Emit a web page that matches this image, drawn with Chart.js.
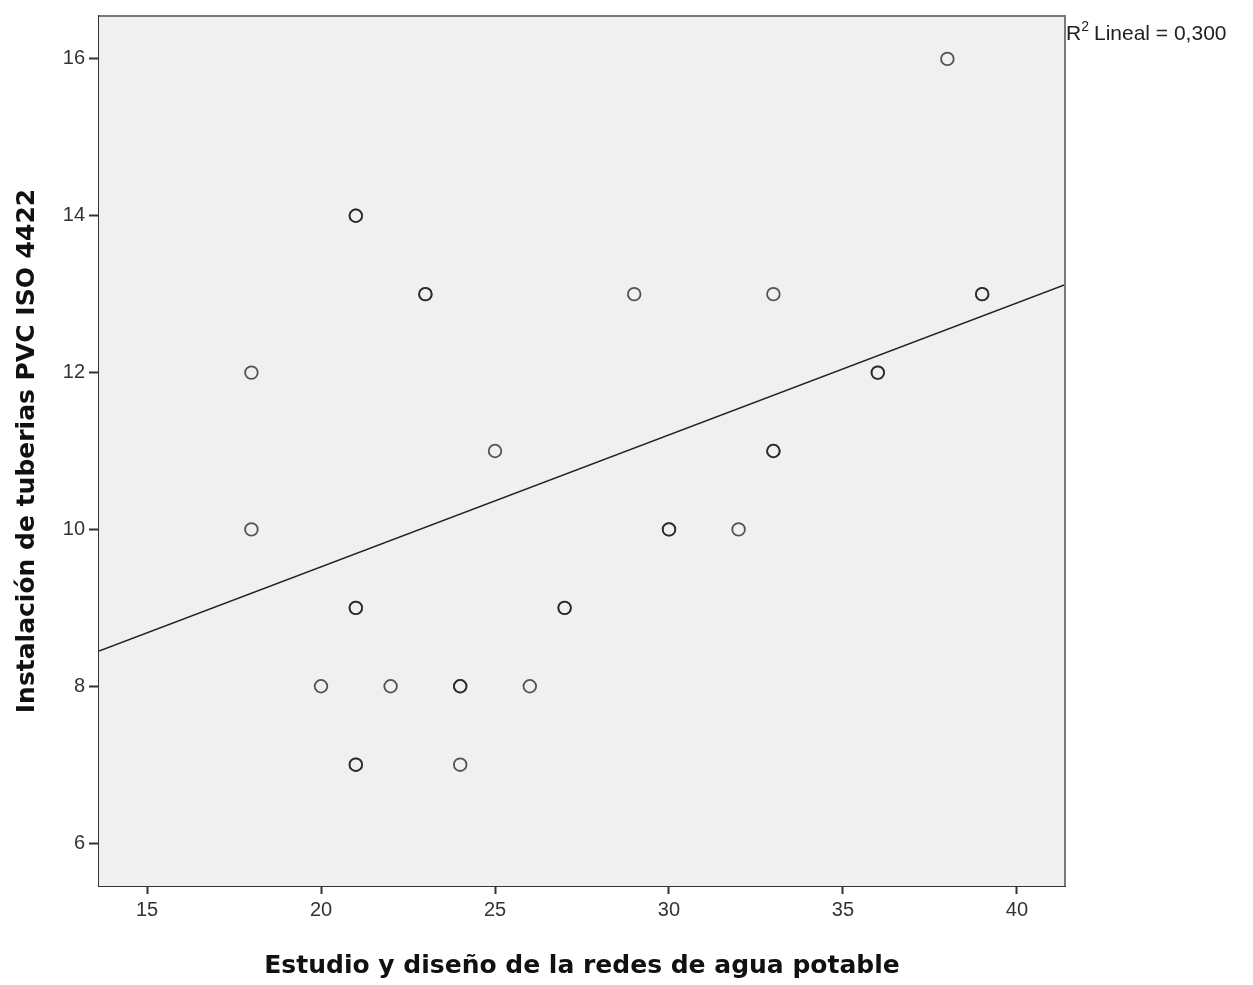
<!DOCTYPE html>
<html>
<head>
<meta charset="utf-8">
<script src="https://cdn.jsdelivr.net/npm/chart.js"></script>
<style>
  html, body { margin: 0; padding: 0; background: #fff; }
  #wrap { width: 1253px; height: 985px; position: relative; }
</style>
</head>
<body>
<div id="wrap"><canvas id="chart"></canvas></div>
<script>
// Observed cases (repeated pairs drawn twice, like the darker SPSS markers)
const estudioX = [38, 21, 21, 23, 23, 29, 33, 39, 39, 18, 36, 36, 25, 33, 33, 18, 30, 30, 32, 21, 21, 27, 27, 20, 22, 24, 24, 26, 21, 21, 24];
const tuberiasY = [16, 14, 14, 13, 13, 13, 13, 13, 13, 12, 12, 12, 11, 11, 11, 10, 10, 10, 10, 9, 9, 9, 9, 8, 8, 8, 8, 8, 7, 7, 7];

// Fit line endpoints (edges of the plot)
const fitX = [13.62, 41.38];
const fitY = [8.45, 13.12];

const xTicks = [15, 20, 25, 30, 35, 40];
const yTicks = [6, 8, 10, 12, 14, 16];
const r2Text = '0,300';

const points = estudioX.map((x, i) => ({ x: x, y: tuberiasY[i] }));
const fitLine = fitX.map((x, i) => ({ x: x, y: fitY[i] }));

// Plot background, top/right frame and the R² note
const frame = {
    id: 'frame',
    beforeDatasetsDraw(chart) {
        const { ctx, chartArea: a } = chart;
        ctx.save();
        ctx.fillStyle = '#f0f0f0';
        ctx.fillRect(a.left, a.top, a.right - a.left, a.bottom - a.top);
        ctx.restore();
    },
    afterDraw(chart) {
        const { ctx, chartArea: a } = chart;
        ctx.save();
        ctx.strokeStyle = '#7a7a7a';
        ctx.lineWidth = 2;
        ctx.beginPath();
        ctx.moveTo(a.left, a.top);
        ctx.lineTo(a.right, a.top);
        ctx.lineTo(a.right, a.bottom);
        ctx.stroke();

        ctx.fillStyle = '#222';
        ctx.textBaseline = 'alphabetic';
        ctx.font = '21px "Liberation Sans", Arial, sans-serif';
        let x = a.right + 1;
        ctx.fillText('R', x, 40);
        x += ctx.measureText('R').width;
        ctx.font = '14px "Liberation Sans", Arial, sans-serif';
        ctx.fillText('2', x, 31);
        x += ctx.measureText('2').width + 5;
        ctx.font = '21px "Liberation Sans", Arial, sans-serif';
        ctx.fillText('Lineal = ' + r2Text, x, 40);
        ctx.restore();
    }
};

new Chart(document.getElementById('chart'), {
    type: 'scatter',
    data: {
        datasets: [
            {
                label: 'Casos',
                data: points,
                pointStyle: 'circle',
                pointRadius: 6.3,
                pointBorderWidth: 1.8,
                pointBorderColor: 'rgba(30, 30, 30, 0.75)',
                pointBackgroundColor: 'rgba(0, 0, 0, 0)',
                showLine: false
            },
            {
                label: 'Lineal',
                type: 'line',
                data: fitLine,
                borderColor: '#222',
                borderWidth: 1.5,
                pointRadius: 0,
                fill: false
            }
        ]
    },
    options: {
        responsive: true,
        maintainAspectRatio: false,
        animation: false,
        layout: {
            padding: { top: 14, right: 188, left: 0, bottom: 0 }
        },
        plugins: {
            legend: { display: false },
            tooltip: { enabled: false }
        },
        scales: {
            x: {
                type: 'linear',
                min: 13.62,
                max: 41.38,
                afterBuildTicks(axis) {
                    axis.ticks = xTicks.map(v => ({ value: v }));
                },
                afterFit(axis) { axis.height = 99; },
                grid: {
                    drawOnChartArea: false,
                    drawTicks: true,
                    tickLength: 8,
                    tickWidth: 2,
                    tickColor: '#333'
                },
                border: { color: '#333', width: 2 },
                ticks: {
                    color: '#333',
                    padding: 4,
                    maxRotation: 0,
                    font: { family: '"Liberation Sans", Arial, sans-serif', size: 20 }
                },
                title: {
                    display: true,
                    text: 'Estudio y diseño de la redes de agua potable',
                    color: '#111',
                    padding: { top: 13 },
                    font: { family: '"DejaVu Sans", Verdana, sans-serif', size: 25, weight: 'bold' }
                }
            },
            y: {
                type: 'linear',
                min: 5.453,
                max: 16.547,
                afterBuildTicks(axis) {
                    axis.ticks = yTicks.map(v => ({ value: v }));
                },
                afterFit(axis) { axis.width = 99; },
                grid: {
                    drawOnChartArea: false,
                    drawTicks: true,
                    tickLength: 10,
                    tickWidth: 2,
                    tickColor: '#333'
                },
                border: { color: '#333', width: 2 },
                ticks: {
                    color: '#333',
                    padding: 4,
                    font: { family: '"Liberation Sans", Arial, sans-serif', size: 20 }
                },
                title: {
                    display: true,
                    text: 'Instalación de tuberias PVC ISO 4422',
                    color: '#111',
                    padding: { top: 12, bottom: 0 },
                    font: { family: '"DejaVu Sans", Verdana, sans-serif', size: 25, weight: 'bold' }
                }
            }
        }
    },
    plugins: [frame]
});
</script>
</body>
</html>
